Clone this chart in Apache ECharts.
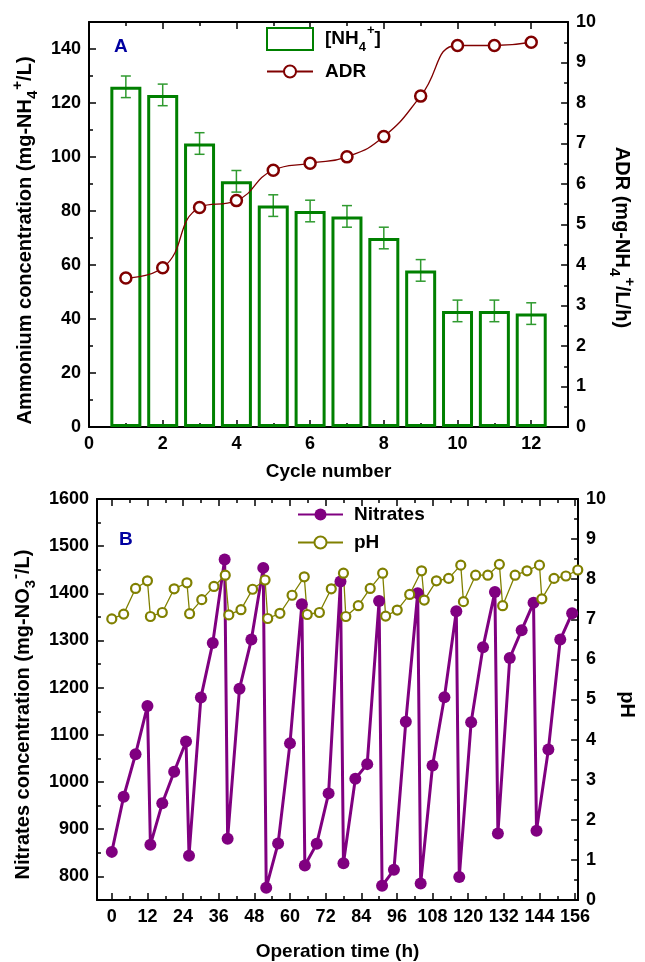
<!DOCTYPE html>
<html>
<head>
<meta charset="utf-8">
<script src="https://cdn.jsdelivr.net/npm/echarts@6/dist/echarts.min.js"></script>
<style>
    html, body { margin: 0; padding: 0; background: #fff; }
    #chart { width: 645px; height: 962px; }
</style>
</head>
<body>
<div id="chart"></div>
<script>
// panel A
var cycles = [1, 2, 3, 4, 5, 6, 7, 8, 9, 10, 11, 12];
var nh4 = [126, 123, 105, 91, 82, 80, 78, 70, 58, 43, 43, 42];
var nh4Err = [4, 4, 4, 4, 4, 4, 4, 4, 4, 4, 4, 4];
var adr = [3.68, 3.93, 5.42, 5.59, 6.34, 6.51, 6.67, 7.17, 8.17, 9.42, 9.42, 9.50];

// panel B
var hours = [0, 4, 8, 12, 13, 17, 21, 25, 26, 30, 34, 38, 39, 43, 47, 51, 52, 56, 60, 64, 65, 69, 73, 77,
    78, 82, 86, 90, 91, 95, 99, 103, 104, 108, 112, 116, 117, 121, 125, 129, 130, 134, 138, 142, 143, 147, 151, 155];
var nitrates = [852, 969, 1059, 1161, 867, 955, 1022, 1086, 844, 1179, 1295, 1472, 880, 1198, 1302, 1454,
    776, 870, 1082, 1377, 823, 869, 976, 1425, 828, 1007, 1038, 1384, 780, 814, 1128, 1400,
    785, 1035, 1180, 1362, 799, 1127, 1286, 1403, 891, 1263, 1322, 1380, 897, 1069, 1302, 1358];
var phHours = [0, 4, 8, 12, 13, 17, 21, 25.3, 26.2, 30.3, 34.4, 38.2, 39.4, 43.5, 47.4, 51.6, 52.5, 56.6, 60.7, 64.8,
    65.8, 69.9, 73.9, 78, 78.8, 83, 87, 91.2, 92.2, 96.1, 100.3, 104.3, 105.2, 109.3, 113.4, 117.5, 118.4, 122.5,
    126.6, 130.5, 131.6, 135.8, 139.8, 144, 144.8, 148.9, 152.9, 156.9];
var ph = [7.01, 7.13, 7.77, 7.96, 7.07, 7.17, 7.76, 7.91, 7.14, 7.49, 7.82, 8.10, 7.11, 7.24, 7.75, 7.98,
    7.02, 7.15, 7.60, 8.06, 7.12, 7.17, 7.76, 8.15, 7.07, 7.34, 7.77, 8.15, 7.08, 7.23, 7.62, 8.21,
    7.48, 7.96, 8.02, 8.35, 7.44, 8.10, 8.10, 8.37, 7.34, 8.10, 8.21, 8.35, 7.51, 8.02, 8.08, 8.23];

var timeTicks = [0, 12, 24, 36, 48, 60, 72, 84, 96, 108, 120, 132, 144, 156];
var timeMinor = [6, 18, 30, 42, 54, 66, 78, 90, 102, 114, 126, 138, 150];
var nitTicks = [800, 900, 1000, 1100, 1200, 1300, 1400, 1500, 1600];
var nitMinor = [750, 850, 950, 1050, 1150, 1250, 1350, 1450, 1550];

var FONT = 'Liberation Sans, Arial, sans-serif';

function rich(size, small) {
    return {
        n: { fontSize: size, fontWeight: 700, fontFamily: FONT, color: '#000', lineHeight: 30, verticalAlign: 'middle' },
        sub: { fontSize: small, fontWeight: 700, fontFamily: FONT, color: '#000', lineHeight: small, verticalAlign: 'bottom' },
        sup: { fontSize: small, fontWeight: 700, fontFamily: FONT, color: '#000', lineHeight: small, verticalAlign: 'top', padding: [0, 0, 0, 1] }
    };
}

var lineBlack = { show: true, onZero: false, lineStyle: { color: '#000', width: 2 } };
var tickStyle = { color: '#000', width: 1.5 };

function label(extra) {
    return Object.assign({ color: '#000', fontSize: 18, fontWeight: 700, fontFamily: FONT, margin: 8 }, extra || {});
}

function tickOnly(grid, pos, min, max, values, len) {
    return {
        type: 'value', gridIndex: grid, position: pos, min: min, max: max,
        axisLine: { show: false, onZero: false }, splitLine: { show: false },
        axisLabel: { show: false },
        axisTick: { show: true, inside: true, length: len, customValues: values, lineStyle: tickStyle }
    };
}

var option = {
    animation: false,
    backgroundColor: '#fff',
    textStyle: { fontFamily: FONT, fontWeight: 700 },
    title: [
        { text: 'A', left: 109, top: 32, textStyle: { color: '#0000a0', fontSize: 19, fontWeight: 700, fontFamily: FONT } },
        { text: 'B', left: 114, top: 525, textStyle: { color: '#0000a0', fontSize: 19, fontWeight: 700, fontFamily: FONT } }
    ],
    grid: [
        { left: 89, top: 22, right: 58, height: 405 },
        { left: 93, top: 499, right: 58, height: 401 }
    ],
    legend: [
        {
            orient: 'vertical', left: 266, top: 24, padding: 0, itemWidth: 46, itemHeight: 22,
            data: [{ name: '[NH4+]', icon: 'rect' }],
            formatter: function () { return '{n|[NH}{sub|4}{sup|+}{n|]}'; },
            textStyle: { padding: [0, 0, 0, 7], rich: rich(19, 13) }
        },
        {
            orient: 'vertical', left: 266, top: 62, padding: 0, itemWidth: 46, itemHeight: 15,
            data: ['ADR'],
            textStyle: { fontSize: 19, fontWeight: 700, fontFamily: FONT, color: '#000', padding: [0, 0, 0, 7] }
        },
        {
            orient: 'vertical', left: 297, top: 505, padding: 0, itemWidth: 45, itemHeight: 15, itemGap: 9,
            data: ['Nitrates', 'pH'],
            textStyle: { fontSize: 19, fontWeight: 700, fontFamily: FONT, color: '#000', padding: [0, 0, 0, 6] }
        }
    ],
    xAxis: [
        {
            type: 'value', gridIndex: 0, position: 'bottom', min: 0, max: 13, interval: 2,
            name: 'Cycle number', nameLocation: 'middle', nameGap: 35,
            nameTextStyle: { fontSize: 19, fontWeight: 700, color: '#000' },
            axisLine: lineBlack, splitLine: { show: false },
            axisTick: { inside: true, length: 7, lineStyle: tickStyle },
            minorTick: { show: true, splitNumber: 2, length: 4, lineStyle: tickStyle },
            axisLabel: label({ formatter: function (v) { return v % 2 === 0 ? String(v) : ''; } })
        },
        {
            type: 'value', gridIndex: 0, position: 'top', min: 0, max: 13, interval: 2,
            axisLine: lineBlack, splitLine: { show: false }, axisLabel: { show: false },
            axisTick: { inside: true, length: 7, lineStyle: tickStyle },
            minorTick: { show: true, splitNumber: 2, length: 4, lineStyle: tickStyle }
        },
        {
            type: 'value', gridIndex: 1, position: 'bottom', min: -5, max: 157,
            name: 'Operation time (h)', nameLocation: 'middle', nameGap: 42,
            nameTextStyle: { fontSize: 19, fontWeight: 700, color: '#000' },
            axisLine: lineBlack, splitLine: { show: false },
            axisTick: { inside: true, length: 7, customValues: timeTicks, lineStyle: tickStyle },
            axisLabel: label({ customValues: timeTicks, formatter: function (v) { return String(v); } })
        },
        tickOnly(1, 'bottom', -5, 157, timeMinor, 4),
        Object.assign(tickOnly(1, 'top', -5, 157, timeTicks, 7), { axisLine: lineBlack }),
        tickOnly(1, 'top', -5, 157, timeMinor, 4)
    ],
    yAxis: [
        {
            type: 'value', gridIndex: 0, position: 'left', min: 0, max: 150, interval: 20,
            name: '{n|Ammonium concentration (mg-NH}{sub|4}{sup|+}{n|/L)}',
            nameLocation: 'middle', nameGap: 45, nameRotate: 90,
            nameTextStyle: { rich: rich(20, 15), padding: [0, 32, 0, 0] },
            axisLine: lineBlack, splitLine: { show: false },
            axisTick: { inside: true, length: 7, lineStyle: tickStyle },
            minorTick: { show: true, splitNumber: 2, length: 4, lineStyle: tickStyle },
            axisLabel: label({ formatter: function (v) { return v % 20 === 0 ? String(v) : ''; } })
        },
        {
            type: 'value', gridIndex: 0, position: 'right', min: 0, max: 10, interval: 1,
            name: '{n|ADR (mg-NH}{sub|4}{sup|+}{n|/L/h)}',
            nameLocation: 'middle', nameGap: 30, nameRotate: -90,
            nameTextStyle: { rich: rich(20, 15), padding: [0, 0, 0, 26] },
            axisLine: lineBlack, splitLine: { show: false },
            axisTick: { inside: true, length: 7, lineStyle: tickStyle },
            minorTick: { show: true, splitNumber: 2, length: 4, lineStyle: tickStyle },
            axisLabel: label()
        },
        {
            type: 'value', gridIndex: 1, position: 'left', min: 750, max: 1600,
            name: '{n|Nitrates concentration (mg-NO}{sub|3}{sup|-}{n|/L)}',
            nameLocation: 'middle', nameGap: 58, nameRotate: 90,
            nameTextStyle: { rich: rich(20, 15), padding: [0, 30, 0, 0] },
            axisLine: lineBlack, splitLine: { show: false },
            axisTick: { inside: true, length: 7, customValues: nitTicks, lineStyle: tickStyle },
            axisLabel: label({ customValues: nitTicks, formatter: function (v) { return String(v); } })
        },
        tickOnly(1, 'left', 750, 1600, nitMinor, 4),
        {
            type: 'value', gridIndex: 1, position: 'right', min: 0, max: 10, interval: 1,
            name: 'pH', nameLocation: 'middle', nameGap: 38, nameRotate: -90,
            nameTextStyle: { fontSize: 20, fontWeight: 700, color: '#000', padding: [0, 0, 0, 10] },
            axisLine: lineBlack, splitLine: { show: false },
            axisTick: { inside: true, length: 7, lineStyle: tickStyle },
            minorTick: { show: true, splitNumber: 2, length: 4, lineStyle: tickStyle },
            axisLabel: label()
        }
    ],
    series: [
        {
            name: '[NH4+]', type: 'bar', xAxisIndex: 0, yAxisIndex: 0, barWidth: 31,
            data: cycles.map(function (c, i) { return [c, nh4[i]]; }),
            itemStyle: { color: 'rgba(255,255,255,0)', borderColor: '#008000', borderWidth: 3 }
        },
        {
            name: 'err', type: 'custom', xAxisIndex: 0, yAxisIndex: 0,
            data: cycles.map(function (c, i) { return [c, nh4[i], nh4Err[i]]; }),
            encode: { x: 0, y: 1 },
            renderItem: function (params, api) {
                var x = api.value(0), y = api.value(1), e = api.value(2);
                var hi = api.coord([x, y + e]);
                var lo = api.coord([x, y - e]);
                var st = { stroke: '#2f9a2f', lineWidth: 1.5 };
                return {
                    type: 'group',
                    children: [
                        { type: 'line', shape: { x1: hi[0], y1: hi[1], x2: lo[0], y2: lo[1] }, style: st },
                        { type: 'line', shape: { x1: hi[0] - 5, y1: hi[1], x2: hi[0] + 5, y2: hi[1] }, style: st },
                        { type: 'line', shape: { x1: lo[0] - 5, y1: lo[1], x2: lo[0] + 5, y2: lo[1] }, style: st }
                    ]
                };
            }
        },
        {
            name: 'ADR', type: 'line', xAxisIndex: 0, yAxisIndex: 1, smooth: 0.5,
            data: cycles.map(function (c, i) { return [c, adr[i]]; }),
            symbol: 'circle', symbolSize: 11,
            itemStyle: { color: '#fff', borderColor: '#800000', borderWidth: 2.5 },
            lineStyle: { color: '#800000', width: 1.3 }
        },
        {
            name: 'Nitrates', type: 'line', xAxisIndex: 2, yAxisIndex: 2,
            data: hours.map(function (h, i) { return [h, nitrates[i]]; }),
            symbol: 'circle', symbolSize: 12,
            itemStyle: { color: '#800080' },
            lineStyle: { color: '#800080', width: 3 }
        },
        {
            name: 'pH', type: 'line', xAxisIndex: 2, yAxisIndex: 4,
            data: phHours.map(function (h, i) { return [h, ph[i]]; }),
            symbol: 'circle', symbolSize: 9,
            itemStyle: { color: '#fff', borderColor: '#808000', borderWidth: 2.2 },
            lineStyle: { color: '#808000', width: 1.3 }
        }
    ]
};

var myChart = echarts.init(document.getElementById('chart'));
myChart.setOption(option);
</script>
</body>
</html>
